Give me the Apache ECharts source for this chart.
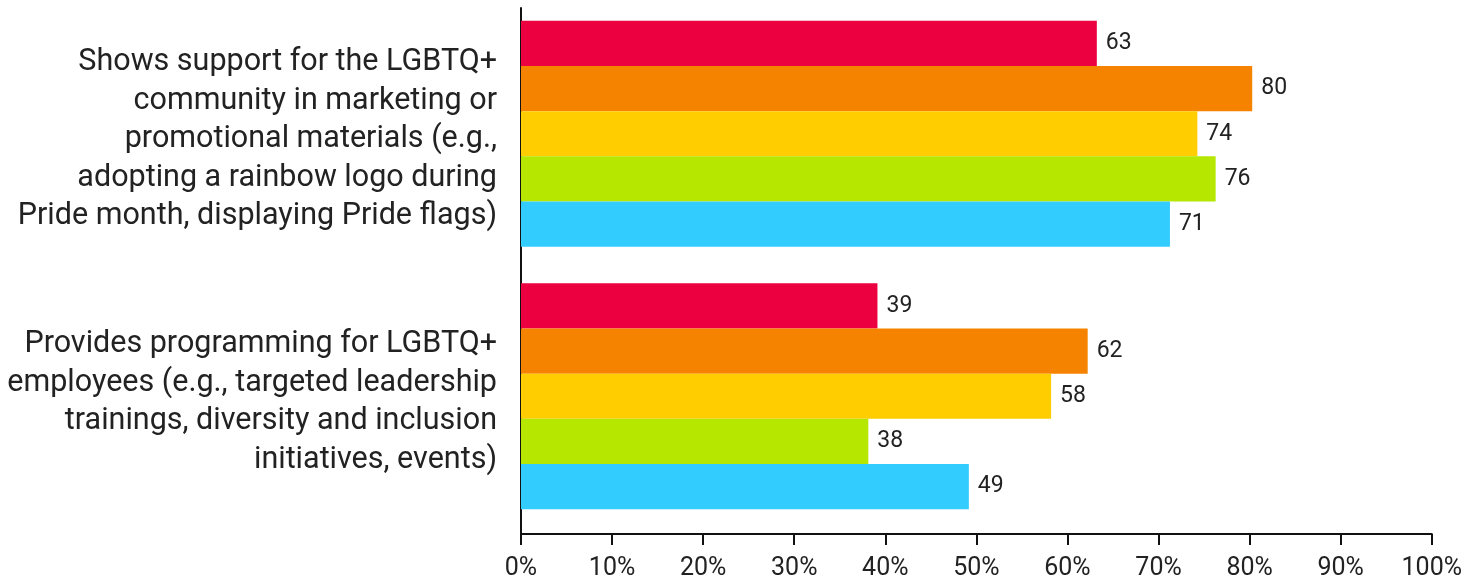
<!DOCTYPE html>
<html>
<head>
<meta charset="utf-8">
<style>
  html, body { margin: 0; padding: 0; background: #fff; }
  #chart { width: 1465px; height: 581px; }
</style>
<script src="https://cdn.jsdelivr.net/npm/echarts@6/dist/echarts.min.js"></script>
</head>
<body>
<div id="chart"></div>
<script>
const categories = [
  'Shows support for the LGBTQ+\ncommunity in marketing or\npromotional materials (e.g.,\nadopting a rainbow logo during\nPride month, displaying Pride flags)',
  'Provides programming for LGBTQ+\nemployees (e.g., targeted leadership\ntrainings, diversity and inclusion\ninitiatives, events)'
];
const seriesNames = ['Group 1', 'Group 2', 'Group 3', 'Group 4', 'Group 5'];
const group1 = [63, 39];
const group2 = [80, 62];
const group3 = [74, 58];
const group4 = [76, 38];
const group5 = [71, 49];
const seriesValues = [group1, group2, group3, group4, group5];
const colors = ['#EC003F', '#F68300', '#FFCD00', '#B5E700', '#33CCFF'];
const xTicks = { min: 0, max: 100, interval: 10 };

const chart = echarts.init(document.getElementById('chart'), null, { renderer: 'canvas' });
const FONT = 'Roboto, "Liberation Sans", Arial, sans-serif';

const option = {
  animation: false,
  backgroundColor: '#ffffff',
  grid: [
    { left: 521, right: 30, top: 2.5, height: 525, containLabel: false },
    { left: 521, right: 30, top: 8, bottom: 44, containLabel: false }
  ],
  xAxis: [
    { gridIndex: 0, type: 'value', min: xTicks.min, max: xTicks.max, interval: xTicks.interval, show: false },
    {
      gridIndex: 1, type: 'value', min: xTicks.min, max: xTicks.max, interval: xTicks.interval,
      axisLine: { show: true, lineStyle: { color: '#111', width: 2 } },
      axisTick: { show: true, length: 11, lineStyle: { color: '#111', width: 2 } },
      splitLine: { show: false },
      axisLabel: { formatter: '{value}%', fontSize: 25, color: '#222', fontFamily: FONT, margin: 22 }
    }
  ],
  yAxis: [
    { gridIndex: 0, type: 'category', data: categories, inverse: true, show: false },
    {
      gridIndex: 1, type: 'category', data: categories, inverse: true,
      axisLine: { show: true, lineStyle: { color: '#111', width: 2 } },
      axisTick: { show: false },
      splitLine: { show: false },
      axisLabel: { fontSize: 30.5, lineHeight: 38.5, color: '#222', fontFamily: FONT, margin: 24, align: 'right' }
    }
  ],
  series: seriesValues.map((vals, i) => ({
    name: seriesNames[i],
    type: 'bar',
    xAxisIndex: 0,
    yAxisIndex: 0,
    data: vals,
    barGap: '0%',
    barCategoryGap: '13.9%',
    itemStyle: { color: colors[i] },
    label: { show: true, position: 'right', distance: 9, fontSize: 23, color: '#222', fontFamily: FONT }
  }))
};
chart.setOption(option);
</script>
</body>
</html>
